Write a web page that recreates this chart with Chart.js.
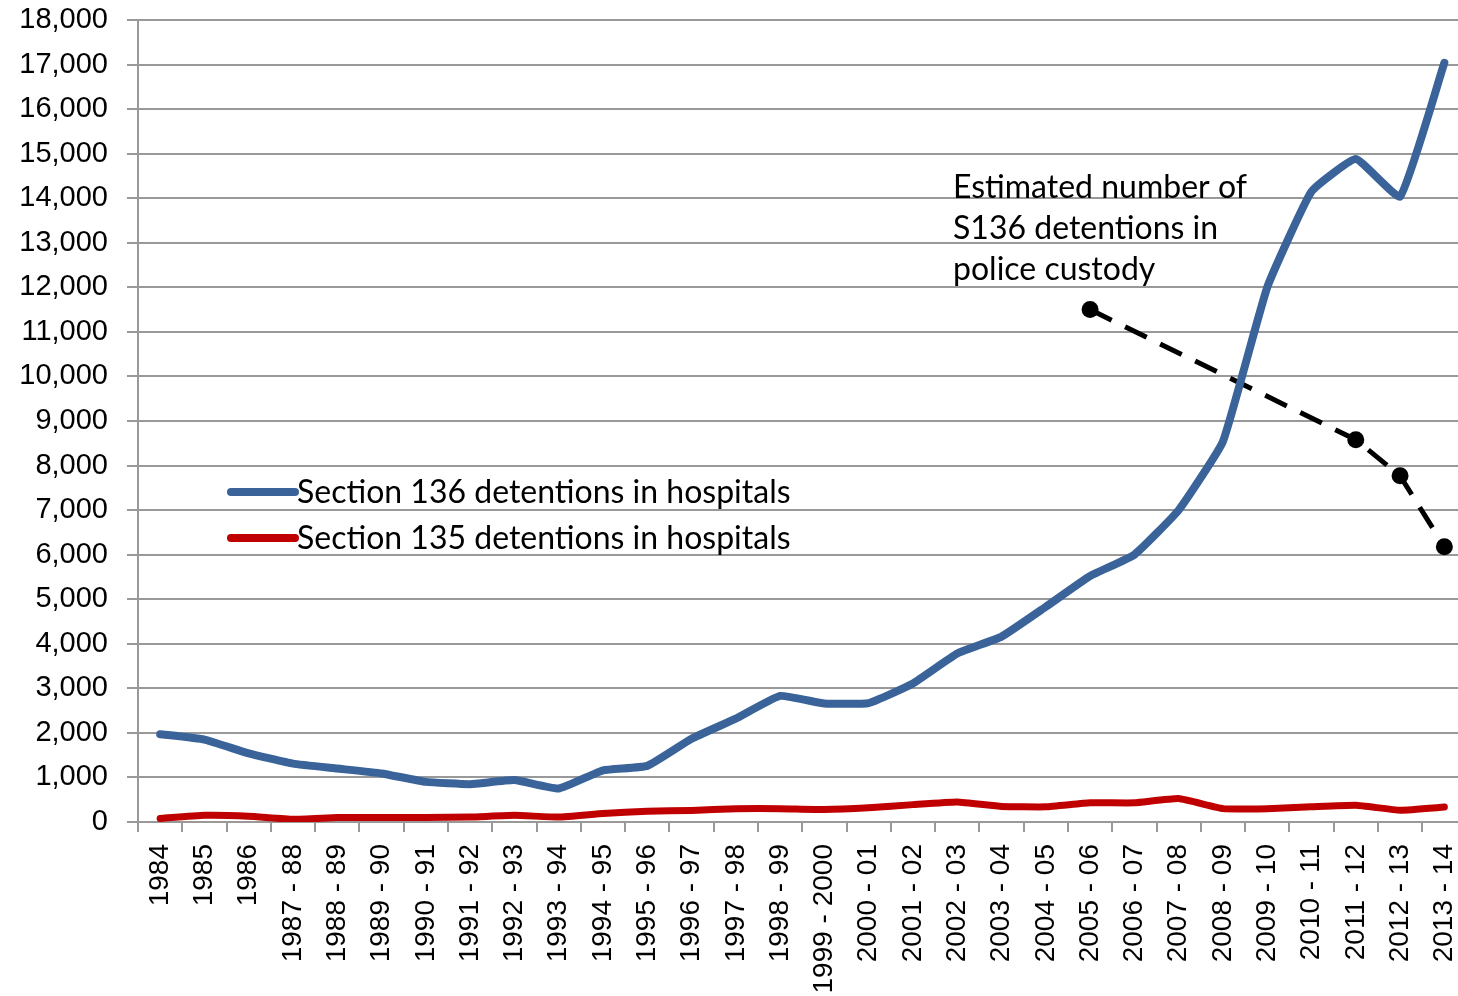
<!DOCTYPE html>
<html><head><meta charset="utf-8">
<script src="https://cdn.jsdelivr.net/npm/chart.js@4/dist/chart.umd.min.js"></script>
<style>html,body{margin:0;padding:0;overflow:hidden;background:#fff}#wrap{width:1475px;height:996px}</style>
</head><body><div id="wrap"><canvas id="c" width="1475" height="996"></canvas></div>
<script>
const categories = ['1984','1985','1986','1987 - 88','1988 - 89','1989 - 90','1990 - 91','1991 - 92','1992 - 93','1993 - 94','1994 - 95','1995 - 96','1996 - 97','1997 - 98','1998 - 99','1999 - 2000','2000 - 01','2001 - 02','2002 - 03','2003 - 04','2004 - 05','2005 - 06','2006 - 07','2007 - 08','2008 - 09','2009 - 10','2010 - 11','2011 - 12','2012 - 13','2013 - 14'];
const s136Hospitals = [1970,1850,1540,1310,1200,1090,900,850,940,750,1160,1260,1870,2320,2830,2660,2670,3110,3780,4160,4830,5520,6000,7000,8540,12000,14150,14880,14040,17040];
const s135Hospitals = [80,150,130,60,100,100,100,110,150,110,190,240,260,300,300,280,320,390,450,350,340,430,430,525,300,300,340,375,265,335];
const s136PoliceEstimate = [null,null,null,null,null,null,null,null,null,null,null,null,null,null,null,null,null,null,null,null,null,11500,null,null,null,null,null,8580,7770,6180];
const seriesLabels = ['Section 136 detentions in hospitals','Section 135 detentions in hospitals','Estimated number of S136 detentions in police custody'];
const annotationLines = ['Estimated number of','S136 detentions in','police custody'];
const yMin = 0, yMax = 18000, yStep = 1000;

const overlay = {
  id:'overlay',
  afterDatasetsDraw(chart){
    const ctx = chart.ctx;
    ctx.save();
    ctx.font = '32px Lato';
    ctx.fillStyle = '#000';
    ctx.textBaseline = 'middle';
    ctx.textAlign = 'left';
    const rows = [492, 538];
    [0,1].forEach((i)=>{
      const ds = chart.data.datasets[i];
      ctx.strokeStyle = ds.borderColor;
      ctx.lineWidth = 8;
      ctx.lineCap = 'round';
      ctx.beginPath();
      ctx.moveTo(231, rows[i]);
      ctx.lineTo(295, rows[i]);
      ctx.stroke();
      ctx.fillText(ds.label, 297, rows[i]+1);
    });
    ctx.textBaseline = 'alphabetic';
    annotationLines.forEach((t,i)=>{
      ctx.fillText(t, 953, 198 + i*41);
    });
    ctx.restore();
  }
};

new Chart(document.getElementById('c'), {
  type:'line',
  data:{
    labels: categories,
    datasets:[
      {label:seriesLabels[0], data:s136Hospitals, borderColor:'#3A6399', backgroundColor:'#3A6399', borderWidth:8, pointRadius:0, tension:0.12, borderCapStyle:'round', borderJoinStyle:'round'},
      {label:seriesLabels[1], data:s135Hospitals, borderColor:'#C00000', backgroundColor:'#C00000', borderWidth:7, pointRadius:0, tension:0.12, borderCapStyle:'round', borderJoinStyle:'round'},
      {label:seriesLabels[2], data:s136PoliceEstimate, borderColor:'#000', backgroundColor:'#000', borderWidth:5, borderDash:[24,15], pointRadius:8.5, pointBorderWidth:0, pointBackgroundColor:'#000', spanGaps:true, tension:0}
    ]
  },
  options:{
    responsive:false, animation:false,
    layout:{padding:{top:20,right:2,left:0,bottom:0}},
    plugins:{legend:{display:false}, tooltip:{enabled:false}},
    scales:{
      x:{
        offset:true,
        grid:{offset:true, drawOnChartArea:false, drawTicks:true, tickLength:10, color:'#999', lineWidth:2},
        border:{display:true, color:'#999', width:2},
        ticks:{autoSkip:false, maxRotation:90, minRotation:90, padding:12, color:'#000', font:{family:'Liberation Sans', size:28}},
        afterFit(s){ s.height = 174; s.paddingLeft = 0; s.paddingRight = 0; }
      },
      y:{
        min:yMin, max:yMax,
        grid:{color:'#999', lineWidth:2, tickLength:11},
        border:{display:true, color:'#999', width:2},
        ticks:{stepSize:yStep, padding:19, color:'#000', font:{family:'Liberation Sans', size:29}, callback:(v)=>v.toLocaleString('en-US')},
        afterFit(s){ s.width = 138; s.paddingTop = 0; s.paddingBottom = 0; }
      }
    }
  },
  plugins:[overlay]
});
</script>
</body></html>
